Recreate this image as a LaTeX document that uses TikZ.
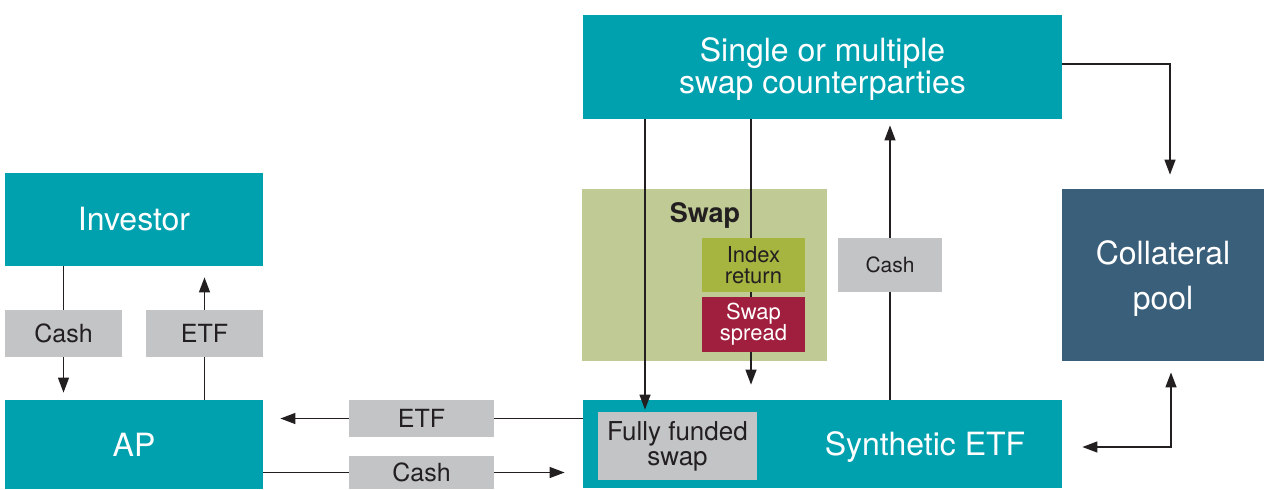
\documentclass[tikz,border=0pt]{standalone}
\usepackage{fontspec}
\setmainfont{TeX Gyre Heros}
\usetikzlibrary{arrows.meta}

\definecolor{etfteal}{RGB}{0,161,175}
\definecolor{taggray}{RGB}{194,196,198}
\definecolor{swapgreen}{RGB}{191,202,148}
\definecolor{idxolive}{RGB}{166,180,64}
\definecolor{spreadred}{RGB}{160,31,62}
\definecolor{collblue}{RGB}{58,95,122}
\definecolor{inkdark}{RGB}{35,31,32}

\tikzset{
  bigbox/.style={fill=etfteal, text=white, align=center, inner sep=0pt,
    font=\fontsize{16}{16}\selectfont},
  tag/.style={fill=taggray, text=inkdark, align=center, inner sep=0pt,
    font=\fontsize{12.5}{13}\selectfont},
  swappart/.style={align=center, inner sep=0pt, minimum width=51.5pt,
    font=\fontsize{11}{10.5}\selectfont},
  flow/.style={draw=inkdark, line width=0.65pt},
  arr/.style={flow, -{Triangle[length=7.5pt,width=5.5pt]}}
}

\begin{document}
\begin{tikzpicture}[x=0.5pt,y=-0.5pt]
  \useasboundingbox (0,0) rectangle (1264,489);

  % Main boxes
  \node[bigbox, minimum width=239.5pt, minimum height=52pt] (cpty) at (822.5,67) {};
  \node[text=white, align=center, font=\fontsize{16}{16}\selectfont] (cptytext) at (822.5,69)
    {Single or multiple\\swap counterparties};
  \node[bigbox, minimum width=129pt, minimum height=46.5pt] (investor) at (134,219.5) {Investor};
  \node[bigbox, minimum width=129pt, minimum height=44.5pt] (ap) at (134,444.5) {AP};
  \node[bigbox, minimum width=239.5pt, minimum height=44pt] (setf) at (822.5,444) {};
  \node[text=white, font=\fontsize{16}{16}\selectfont] (setftext) at (925,447) {Synthetic ETF};
  \node[fill=collblue, minimum width=101pt, minimum height=86pt, inner sep=0pt] (coll) at (1163,275) {};
  \node[text=white, align=center, font=\fontsize{16}{22.5}\selectfont] (colltext) at (1163,279)
    {Collateral\\pool};

  % Swap block
  \node[fill=swapgreen, minimum width=122.5pt, minimum height=86pt, inner sep=0pt] (swapbg) at (704.5,275) {};
  \node[text=inkdark, font=\fontsize{13.5}{14}\selectfont\bfseries] (swaptitle) at (705,215) {Swap};
  \draw[arr, shorten >=7.5pt] (cpty.south -| 751,0) -- (setf.north -| 751,0);
  \node[swappart, fill=idxolive, text=inkdark, minimum height=27pt] (idx) at (753.5,265) {Index\\return};
  \node[swappart, fill=spreadred, text=white, minimum height=27.5pt] (spread) at (753.5,324.5) {Swap\\spread};

  % Fully funded swap inside the ETF box
  \node[fill=taggray, text=inkdark, align=center, inner sep=0pt, minimum width=79.5pt,
    minimum height=34pt, font=\fontsize{13}{12.5}\selectfont] (ffs) at (677.5,446)
    {Fully funded\\swap};
  \draw[arr, shorten >=1pt] (cpty.south -| 645,0) -- (ffs.north -| 645,0);

  % Labels on the flows
  \node[tag, minimum width=58.5pt, minimum height=23.5pt] (cashL) at (63.5,333.5) {Cash};
  \node[tag, minimum width=58.5pt, minimum height=23.5pt] (etfL) at (204.5,333.5) {ETF};
  \node[tag, minimum width=72.5pt, minimum height=18.5pt] (etfB) at (421.5,418.5) {ETF};
  \node[tag, minimum width=72.5pt, minimum height=16.5pt] (cashB) at (421.5,472.5) {Cash};
  \node[tag, minimum width=52pt, minimum height=27pt, font=\fontsize{10.5}{12}\selectfont] (cashM) at (890,265) {Cash};

  % Investor and AP
  \draw[flow] (cashL |- investor.south) -- (cashL.north);
  \draw[arr, shorten >=3.5pt] (cashL.south) -- (cashL |- ap.north);
  \draw[flow] (etfL |- ap.north) -- (etfL.south);
  \draw[arr, shorten >=5.5pt] (etfL.north) -- (etfL |- investor.south);

  % AP and synthetic ETF
  \draw[flow] (setf.west |- etfB) -- (etfB.east);
  \draw[arr, shorten >=8.5pt] (etfB.west) -- (ap.east |- etfB);
  \draw[flow] (ap.east |- cashB) -- (cashB.west);
  \draw[arr, shorten >=9pt] (cashB.east) -- (setf.west |- cashB);

  % Cash to the counterparties
  \draw[flow] (setf.north -| cashM) -- (cashM.south);
  \draw[arr, shorten >=3pt] (cashM.north) -- (cpty.south -| cashM);

  % Collateral
  \draw[arr, shorten >=7pt] (cpty.east |- 0,64) -| ([xshift=3.5pt]coll.north);
  \draw[flow, {Triangle[length=7.5pt,width=5.5pt]}-{Triangle[length=7.5pt,width=5.5pt]},
    shorten <=5.5pt, shorten >=10pt] ([xshift=4pt]coll.south) |- (setf.east |- 0,447);
\end{tikzpicture}
\end{document}
